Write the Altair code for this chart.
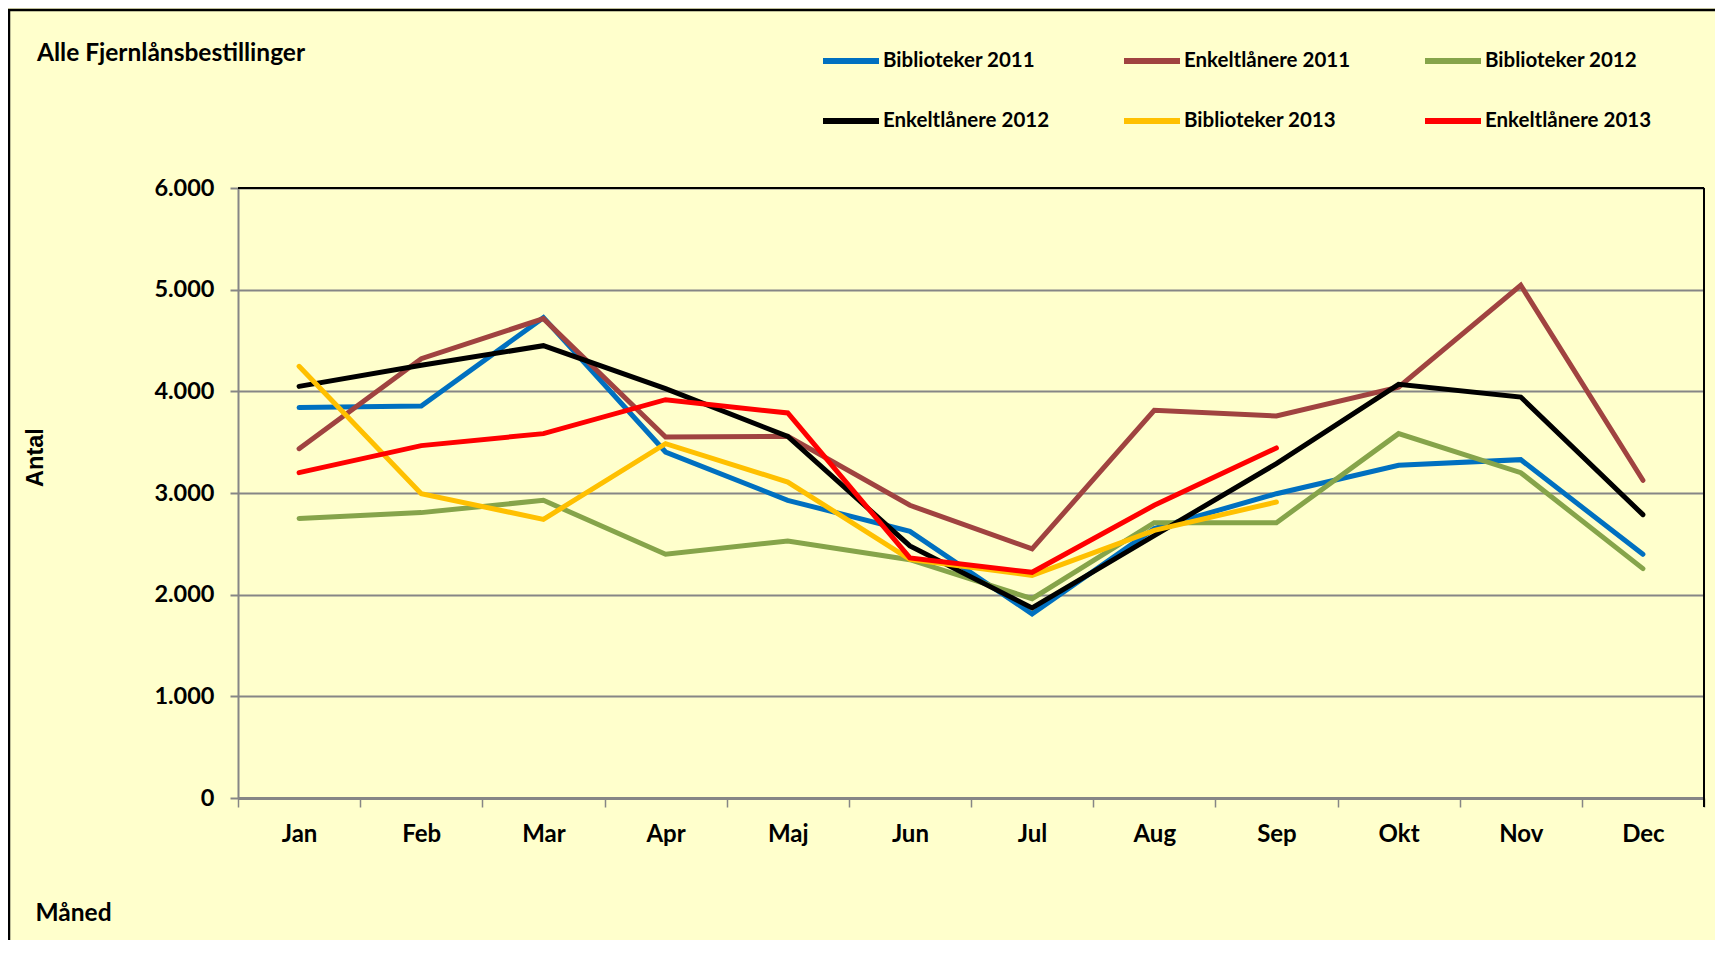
import altair as alt
import pandas as pd

months = ["Jan", "Feb", "Mar", "Apr", "Maj", "Jun", "Jul", "Aug", "Sep", "Okt", "Nov", "Dec"]
series_names = ["Biblioteker 2011", "Enkeltlånere 2011", "Biblioteker 2012",
                "Enkeltlånere 2012", "Biblioteker 2013", "Enkeltlånere 2013"]
colors = ["#0070C0", "#A04340", "#86A44A", "#000000", "#FFC000", "#FF0000"]

bib_2011 = [3840, 3856, 4725, 3403, 2928, 2623, 1810, 2650, 2993, 3272, 3328, 2397]
enk_2011 = [3436, 4321, 4715, 3551, 3557, 2879, 2450, 3813, 3757, 4040, 5043, 3125]
bib_2012 = [2750, 2807, 2928, 2397, 2528, 2344, 1960, 2708, 2708, 3584, 3200, 2256]
enk_2012 = [4049, 4256, 4449, 4026, 3557, 2479, 1870, 2580, 3289, 4069, 3944, 2787]
bib_2013 = [4246, 2993, 2741, 3485, 3108, 2348, 2190, 2633, 2911]
enk_2013 = [3200, 3466, 3584, 3918, 3787, 2361, 2220, 2879, 3443]

y_ticks = [0, 1000, 2000, 3000, 4000, 5000, 6000]

rows = []
for name, vals in zip(series_names, [bib_2011, enk_2011, bib_2012, enk_2012, bib_2013, enk_2013]):
    for m, v in zip(months, vals):
        rows.append({"series": name, "month": m, "value": v})
df = pd.DataFrame(rows)

W, H = 1466, 610
GRAY = "#868686"
FONT = "Lato"

lines = alt.Chart(df).mark_line(strokeWidth=5, strokeCap="round").encode(
    x=alt.X("month:N", sort=months, bandPosition=0.5,
            scale=alt.Scale(type="band", domain=months, paddingInner=0, paddingOuter=0),
            axis=alt.Axis(title="Måned", tickBand="extent", labelAngle=0, grid=False,
                          domainColor=GRAY, domainWidth=3, tickColor=GRAY, tickWidth=1.5,
                          tickSize=9, labelFont=FONT, labelFontSize=24, labelFontWeight="bold",
                          labelColor="black", labelPadding=15,
                          titleFont=FONT, titleFontSize=24.5, titleFontWeight="bold",
                          titleColor="black", titleX=-203, titleY=115, titleAlign="left",
                          titleBaseline="middle", titleAnchor="start")),
    y=alt.Y("value:Q", scale=alt.Scale(domain=[0, 6000], nice=False),
            axis=alt.Axis(values=y_ticks, labelExpr="replace(format(datum.value, ','), ',', '.')",
                          grid=True, gridColor=GRAY, gridWidth=2, domainColor=GRAY, domainWidth=2,
                          tickColor=GRAY, tickSize=8, tickWidth=2, labelPadding=16,
                          labelFont=FONT, labelFontSize=23.5, labelFontWeight="bold", labelColor="black",
                          title="Antal", titleFont="Liberation Sans", titleFontSize=23.5,
                          titleFontWeight="bold", titleColor="black", titleAngle=270,
                          titleX=-203, titleY=269, titleAlign="center", titleBaseline="middle")),
    color=alt.Color("series:N", sort=series_names,
                    scale=alt.Scale(domain=series_names, range=colors),
                    legend=alt.Legend(title=None, orient="none", legendX=582, legendY=-158,
                                      direction="horizontal",
                                      columns=3, symbolType="stroke", symbolSize=3136,
                                      symbolStrokeWidth=6, labelFont=FONT, labelFontSize=20.5,
                                      labelFontWeight="bold", labelColor="black", labelOffset=1,
                                      columnPadding=62, rowPadding=17, gridAlign="all",
                                      labelLimit=400)),
)

deco = pd.DataFrame({"a": [0]})
top_rule = alt.Chart(deco).mark_rule(color="black", strokeWidth=2).encode(
    x=alt.value(0), x2=alt.value(W), y=alt.value(0))
right_rule = alt.Chart(deco).mark_rule(color="black", strokeWidth=2).encode(
    x=alt.value(W), y=alt.value(0), y2=alt.value(H + 9))
frame = alt.Chart(deco).mark_rect(fillOpacity=0, stroke="black", strokeWidth=2.5).encode(
    x=alt.value(-229), x2=alt.value(W + 200), y=alt.value(-178), y2=alt.value(H + 300))
title = alt.Chart(deco).mark_text(text="Alle Fjernlånsbestillinger", align="left", baseline="middle",
                                  font=FONT, fontSize=24.5, fontWeight="bold", color="black").encode(
    x=alt.value(-201), y=alt.value(-134))

chart = alt.layer(frame, top_rule, right_rule, lines, title).properties(
    width=W, height=H,
    padding={"left": 230, "top": 180, "right": 11, "bottom": 142},
    autosize=alt.AutoSizeParams(type="none"),
).configure(background="#FFFFCC").configure_view(stroke=None)

chart.save("out.html", embed_options={"renderer": "svg", "actions": False})
